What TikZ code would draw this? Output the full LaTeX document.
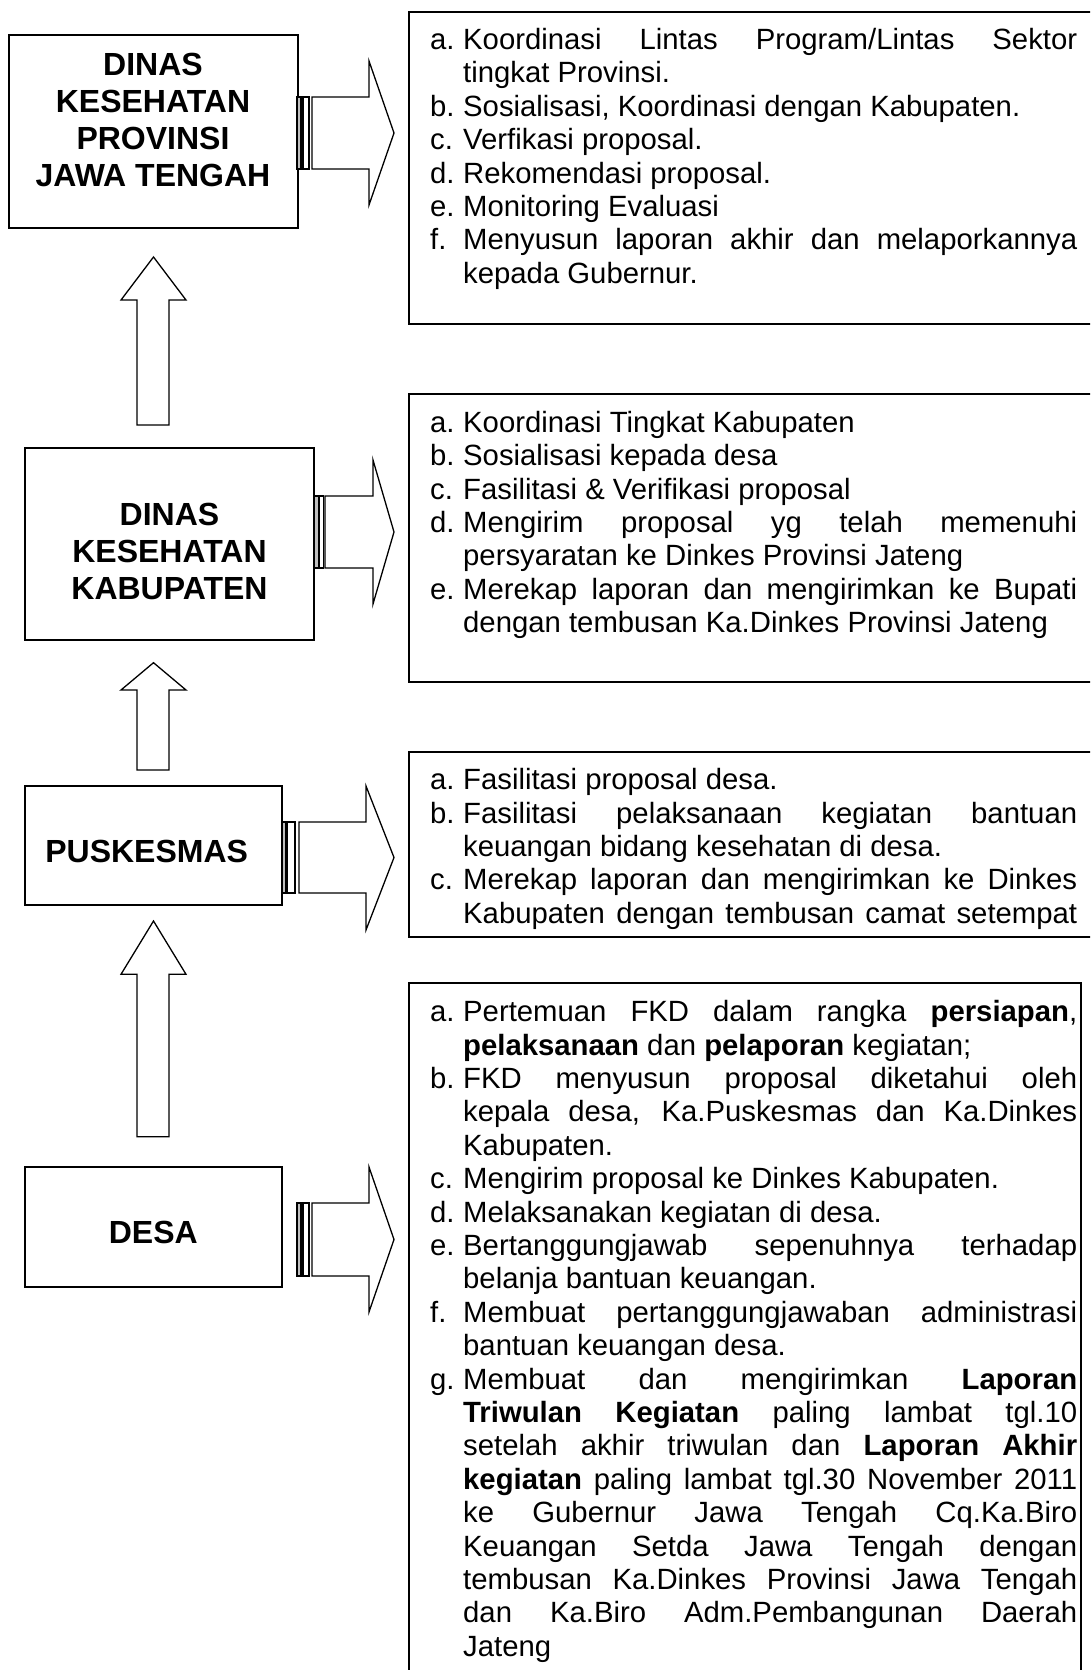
\documentclass[tikz,border=0pt]{standalone}
\usepackage{fontspec}
\setmainfont{Liberation Sans}
\newcommand\JL[2]{\hbox to 647pt{\hbox to 33pt{#1\hss}\hbox to 614pt{#2}}}
\newcommand\RL[2]{\hbox to 647pt{\hbox to 33pt{#1\hss}\hbox to 614pt{#2\hfil}}}
\newcommand\CL[1]{\vtop{\halign{\hfil##\hfil\cr#1\crcr}}}
\hbadness=10000
\begin{document}
\begin{tikzpicture}[x=1pt,y=-1pt,
  lbox/.style={draw=black, line width=1.8pt, rectangle, inner sep=0pt},
  ltext/.style={inner sep=0pt, anchor=base, font=\fontsize{32}{37.2}\selectfont\bfseries},
  rline/.style={draw=black, line width=1.8pt},
  rtext/.style={inner sep=0pt, anchor=base west, font=\fontsize{29.3}{33.4}\selectfont},
  arw/.style={draw=black, line width=1.3pt, fill=white, line join=miter},
  dstripe/.style={draw=black, line width=1.1pt, fill=gray!50},
  wstripe/.style={draw=black, line width=1.1pt, fill=white}]
\path[use as bounding box] (0,0) rectangle (1090,1670);
\clip (0,0) rectangle (1090,1670);

% ---------- left boxes ----------
\node[lbox, minimum width=289pt, minimum height=193pt] (b1) at (153.5,131.5) {};
\node[ltext] (b1t) at (153,75) {\CL{DINAS\cr KESEHATAN\cr PROVINSI\cr JAWA TENGAH}};

\node[lbox, minimum width=289pt, minimum height=192pt] (b2) at (169.5,544) {};
\node[ltext] (b2t) at (169.5,525) {\CL{DINAS\cr KESEHATAN\cr KABUPATEN}};

\node[lbox, minimum width=257pt, minimum height=119pt] (b3) at (153.5,845.5) {};
\node[ltext] (b3t) at (146.7,862.7) {PUSKESMAS};

\node[lbox, minimum width=257pt, minimum height=120pt] (b4) at (153.5,1227) {};
\node[ltext] (b4t) at (153.3,1243) {DESA};

% ---------- up arrows ----------
\draw[arw] (137,425) -- (137,300) -- (121,300) -- (153.5,257) -- (186,300) -- (169,300) -- (169,425) -- cycle;
\draw[arw] (137,770) -- (137,690) -- (121,690) -- (153.5,662.7) -- (186,690) -- (169,690) -- (169,770) -- cycle;
\draw[arw] (137,1136.7) -- (137,974.3) -- (121,974.3) -- (153.5,921) -- (186,974.3) -- (169,974.3) -- (169,1136.7) -- cycle;

% ---------- striped right arrows ----------
\draw[dstripe] (297,97) rectangle (301,169);
\draw[wstripe] (303,97) rectangle (309,169);
\draw[arw] (312,97) -- (369,97) -- (369,61) -- (394,133) -- (369,205) -- (369,169) -- (312,169) -- cycle;

\draw[dstripe] (314,496) rectangle (319,568);
\draw[wstripe] (319.5,496) rectangle (323.5,568);
\draw[arw] (325,496) -- (373,496) -- (373,460) -- (394,532) -- (373,604) -- (373,568) -- (325,568) -- cycle;

\draw[dstripe] (282,822) rectangle (286,893);
\draw[wstripe] (287.5,822) rectangle (295,893);
\draw[arw] (299,822) -- (366,822) -- (366,786) -- (394,857.5) -- (366,930) -- (366,893) -- (299,893) -- cycle;

\draw[dstripe] (297,1203) rectangle (301,1276);
\draw[wstripe] (303,1203) rectangle (309,1276);
\draw[arw] (312,1203) -- (369,1203) -- (369,1167) -- (394,1239.5) -- (369,1312) -- (369,1276) -- (312,1276) -- cycle;

% ---------- right boxes ----------
\draw[rline] (1100,11.7) -- (409,11.7) -- (409,324) -- (1100,324);
\draw[rline] (1100,394.3) -- (409,394.3) -- (409,681.7) -- (1100,681.7);
\draw[rline] (1100,751.7) -- (409,751.7) -- (409,936.7) -- (1100,936.7);
\draw[rline] (409,1690) -- (409,983.3) -- (1081,983.3) -- (1081,1690);

% ---------- right texts ----------
\node[rtext] (r1t) at (430,49.5) {\vtop{%
\JL{a.}{Koordinasi Lintas Program/Lintas Sektor}%
\RL{}{tingkat Provinsi.}%
\RL{b.}{Sosialisasi, Koordinasi dengan Kabupaten.}%
\RL{c.}{Verfikasi proposal.}%
\RL{d.}{Rekomendasi proposal.}%
\RL{e.}{Monitoring Evaluasi}%
\JL{f.}{Menyusun laporan akhir dan melaporkannya}%
\RL{}{kepada Gubernur.}}};

\node[rtext] (r2t) at (430,432.3) {\vtop{%
\RL{a.}{Koordinasi Tingkat Kabupaten}%
\RL{b.}{Sosialisasi kepada desa}%
\RL{c.}{Fasilitasi \& Verifikasi proposal}%
\JL{d.}{Mengirim proposal yg telah memenuhi}%
\RL{}{persyaratan ke Dinkes Provinsi Jateng}%
\JL{e.}{Merekap laporan dan mengirimkan ke Bupati}%
\RL{}{dengan tembusan Ka.Dinkes Provinsi Jateng}}};

\node[rtext] (r3t) at (430,789.7) {\vtop{%
\RL{a.}{Fasilitasi proposal desa.}%
\JL{b.}{Fasilitasi pelaksanaan kegiatan bantuan}%
\RL{}{keuangan bidang kesehatan di desa.}%
\JL{c.}{Merekap laporan dan mengirimkan ke Dinkes}%
\JL{}{Kabupaten dengan tembusan camat setempat}}};

\node[rtext] (r4t) at (430,1021.7) {\vtop{%
\JL{a.}{Pertemuan FKD dalam rangka \textbf{persiapan},}%
\RL{}{\textbf{pelaksanaan} dan \textbf{pelaporan} kegiatan;}%
\JL{b.}{FKD menyusun proposal diketahui oleh}%
\JL{}{kepala desa, Ka.Puskesmas dan Ka.Dinkes}%
\RL{}{Kabupaten.}%
\RL{c.}{Mengirim proposal ke Dinkes Kabupaten.}%
\RL{d.}{Melaksanakan kegiatan di desa.}%
\JL{e.}{Bertanggungjawab sepenuhnya terhadap}%
\RL{}{belanja bantuan keuangan.}%
\JL{f.}{Membuat pertanggungjawaban administrasi}%
\RL{}{bantuan keuangan desa.}%
\JL{g.}{Membuat dan mengirimkan \textbf{Laporan}}%
\JL{}{\textbf{Triwulan Kegiatan} paling lambat tgl.10}%
\JL{}{setelah akhir triwulan dan \textbf{Laporan Akhir}}%
\JL{}{\textbf{kegiatan} paling lambat tgl.30 November 2011}%
\JL{}{ke Gubernur Jawa Tengah Cq.Ka.Biro}%
\JL{}{Keuangan Setda Jawa Tengah dengan}%
\JL{}{tembusan Ka.Dinkes Provinsi Jawa Tengah}%
\JL{}{dan Ka.Biro Adm.Pembangunan Daerah}%
\RL{}{Jateng}}};
\end{tikzpicture}
\end{document}
